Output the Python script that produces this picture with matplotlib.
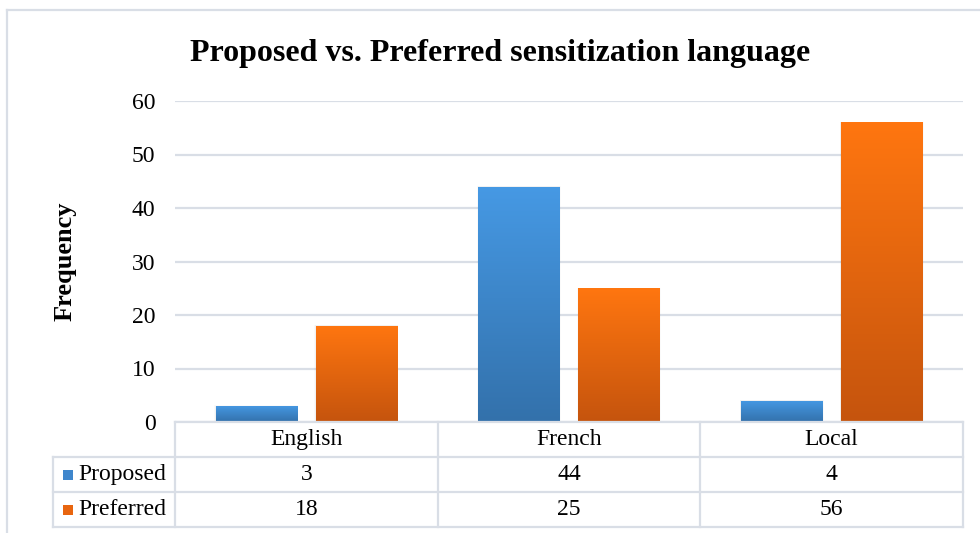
import numpy as np
import matplotlib
matplotlib.use("Agg")
import matplotlib.pyplot as plt
import matplotlib.transforms as mtransforms
from matplotlib.colors import LinearSegmentedColormap
from matplotlib.patches import Rectangle

# ── data ─────────────────────────────────────────────
categories = ["English", "French", "Local"]
series_names = ["Proposed", "Preferred"]
proposed = [3, 44, 4]
preferred = [18, 25, 56]
y_ticks = [0, 10, 20, 30, 40, 50, 60]

# gradient colours (top, bottom) for each series
grad = {
    "Proposed": ("#4699E4", "#3371AB"),
    "Preferred": ("#FF7610", "#C5540D"),
}
swatch = {"Proposed": "#3F86CC", "Preferred": "#E8650F"}
line_col = "#D9DEE6"

plt.rcParams["font.family"] = ["Liberation Serif", "DejaVu Serif"]

W, H = 980, 533
fig = plt.figure(figsize=(W / 100, H / 100), dpi=100)
fig.patch.set_facecolor("white")


def fx(px):
    return px / W


def fy(py):
    return 1 - py / H


# plot area
ax_l, ax_r, ax_t, ax_b = 175, 963, 101, 422
ax = fig.add_axes([fx(ax_l), fy(ax_b), fx(ax_r - ax_l), fy(ax_t) - fy(ax_b)])
ax.set_xlim(-0.5, 2.5)
ax.set_ylim(0, 60)
ax.set_yticks(y_ticks)
ax.set_yticklabels([str(t) for t in y_ticks], fontsize=17)
ax.set_xticks([])
ax.tick_params(axis="y", length=0, pad=14)
for s in ax.spines.values():
    s.set_visible(False)
ax.grid(axis="y", color=line_col, linewidth=1.6)
ax.set_axisbelow(True)
ax.set_ylabel("Frequency", fontsize=19, fontweight="bold", labelpad=40)

x = np.arange(len(categories))
off, bw = 0.19, 0.31
for vals, name, sign in [(proposed, "Proposed", -1), (preferred, "Preferred", 1)]:
    bars = ax.bar(x + sign * off, vals, width=bw, color="none", edgecolor="none", zorder=3)
    cmap = LinearSegmentedColormap.from_list(name, [grad[name][1], grad[name][0]])
    for b in bars:
        x0, w, h = b.get_x(), b.get_width(), b.get_height()
        # soft shadow
        for k, a in enumerate([0.035, 0.02]):
            d = 0.005 * (k + 1)
            ax.add_patch(Rectangle((x0 - d * 0.5, 0), w + d, h + d * 10,
                                   facecolor="#000000", alpha=a, edgecolor="none", zorder=2))
        g = np.linspace(0, 1, 256).reshape(-1, 1)
        im = ax.imshow(g, cmap=cmap, origin="lower", aspect="auto",
                       extent=[x0, x0 + w, 0, h], zorder=3)
        im.set_clip_path(b)
ax.set_xlim(-0.5, 2.5)
ax.set_ylim(0, 60)

# ── data table below the plot ─────────────────────────
tr = mtransforms.blended_transform_factory(ax.transData, fig.transFigure)
row_y = [422, 457, 492, 527]
leg_l = 53
edges = [-0.5, 0.5, 1.5, 2.5]

lw = 1.6
for yy in row_y[1:]:
    fig.add_artist(plt.Line2D([fx(leg_l), fx(ax_r)], [fy(yy), fy(yy)],
                              color=line_col, lw=lw))
fig.add_artist(plt.Line2D([fx(ax_l), fx(ax_r)], [fy(row_y[0]), fy(row_y[0])],
                          color=line_col, lw=lw))
for e in edges:
    ax.plot([e, e], [fy(row_y[0]), fy(row_y[-1])], transform=tr, color=line_col,
            lw=lw, clip_on=False)
fig.add_artist(plt.Line2D([fx(leg_l), fx(leg_l)], [fy(row_y[1]), fy(row_y[-1])],
                          color=line_col, lw=lw))

for i, c in enumerate(categories):
    ax.text(i, fy((row_y[0] + row_y[1]) / 2), c, transform=tr, ha="center",
            va="center", fontsize=17)
for r, (name, vals) in enumerate([("Proposed", proposed), ("Preferred", preferred)]):
    yc = fy((row_y[r + 1] + row_y[r + 2]) / 2)
    for i, v in enumerate(vals):
        ax.text(i, yc, str(v), transform=tr, ha="center", va="center", fontsize=17)
    fig.add_artist(Rectangle((fx(63), yc - 5 / H), fx(10), 10 / H,
                             facecolor=swatch[name], edgecolor="none"))
    fig.text(fx(78), yc, name, ha="left", va="center", fontsize=17)

# chart border
fig.add_artist(plt.Line2D([fx(7), fx(7)], [fy(10), 0], color=line_col, lw=1.6))
fig.add_artist(plt.Line2D([fx(7), 1], [fy(10), fy(10)], color=line_col, lw=1.6))

fig.text(fx(500), fy(53), "Proposed vs. Preferred sensitization language",
         ha="center", va="center", fontsize=23, fontweight="bold")

fig.savefig("out.png", dpi=100, facecolor="white")
